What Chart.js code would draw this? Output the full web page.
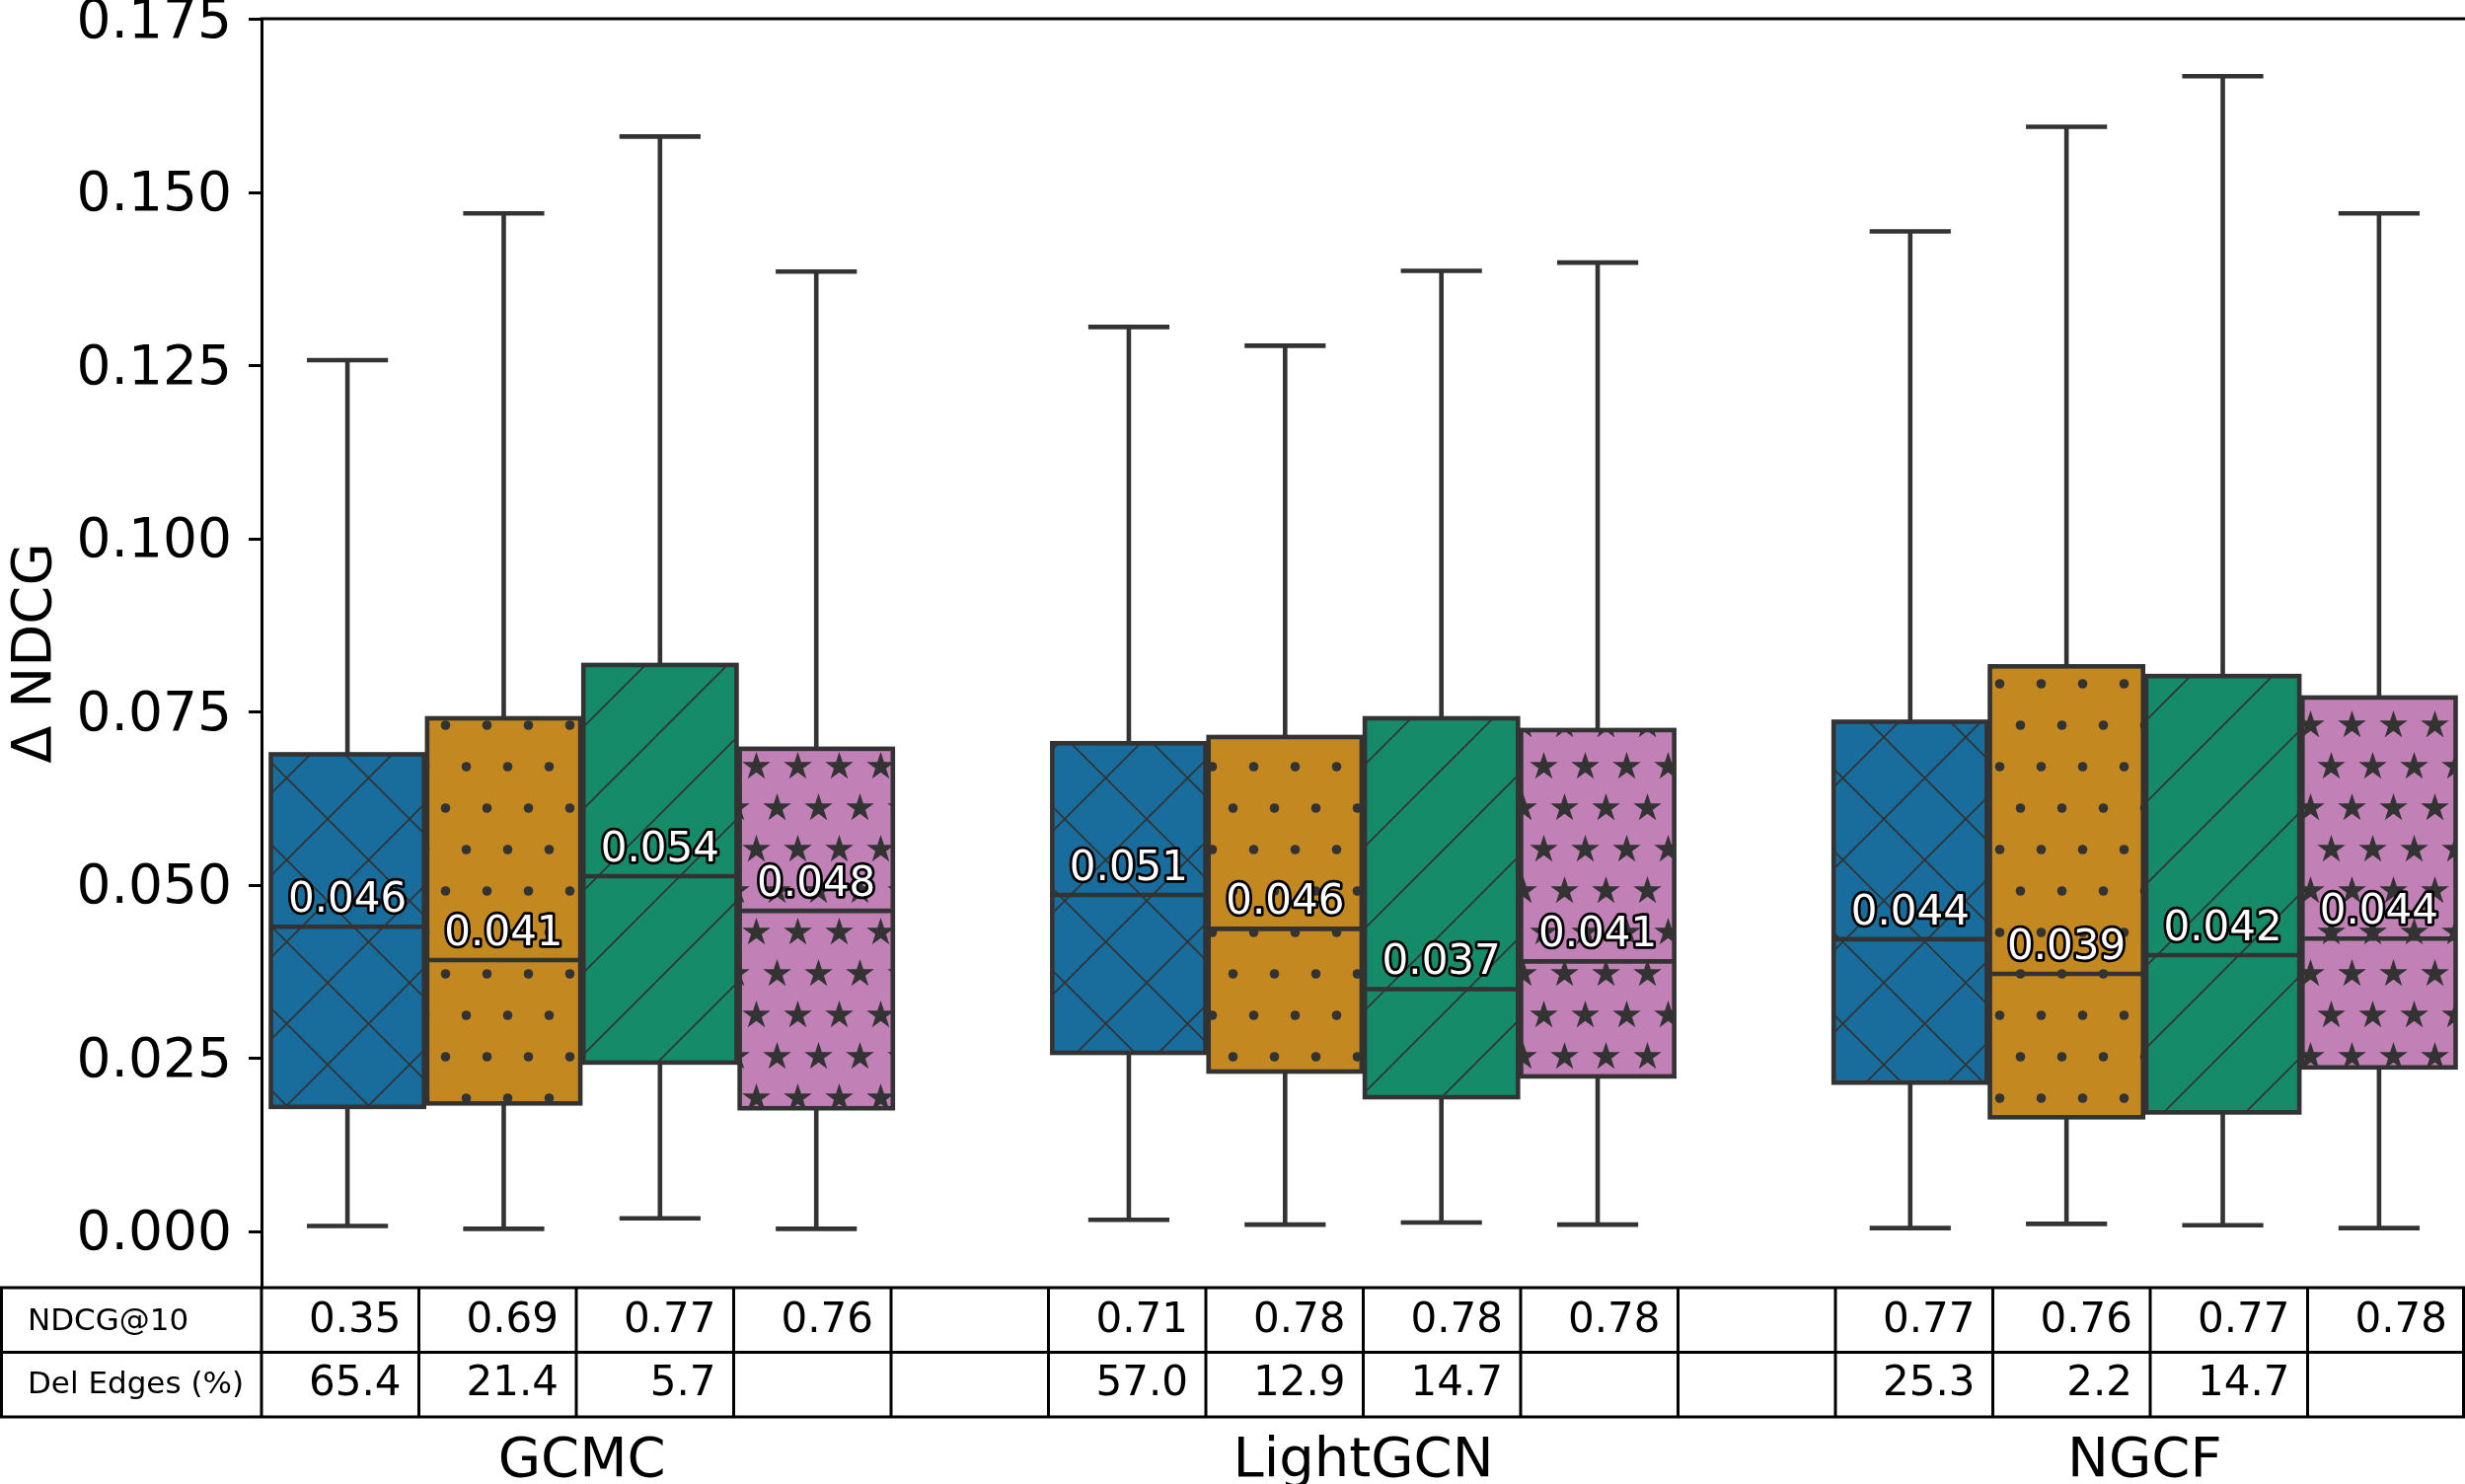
<!DOCTYPE html>
<html><head><meta charset="utf-8">
<script src="https://cdn.jsdelivr.net/npm/chart.js@4.4.1/dist/chart.umd.min.js"></script>
<style>html,body{margin:0;padding:0;background:#fff;overflow:hidden}canvas{display:block}</style>
</head><body>
<canvas id="c" width="2498" height="1504" style="width:2498px;height:1504px"></canvas>
<script>
// ---------- data ----------
const groups = ['GCMC', 'LightGCN', 'NGCF'];
const hueNames = ['Method 1', 'Method 2', 'Method 3', 'Method 4'];
// each inner array: values for GCMC, LightGCN, NGCF
const whiskerLow  = [[0.0008, 0.0017, 0.0005], [0.0004, 0.0010, 0.0011], [0.0019, 0.0013, 0.0009], [0.0004, 0.0010, 0.0005]];
const quartile1   = [[0.0180, 0.0258, 0.0215], [0.0185, 0.0231, 0.0165], [0.0244, 0.0194, 0.0172], [0.0178, 0.0224, 0.0237]];
const medians     = [[0.0440, 0.0486, 0.0422], [0.0392, 0.0437, 0.0372], [0.0513, 0.0350, 0.0399], [0.0463, 0.0390, 0.0423]];
const quartile3   = [[0.0689, 0.0705, 0.0736], [0.0741, 0.0714, 0.0816], [0.0818, 0.0741, 0.0802], [0.0697, 0.0724, 0.0771]];
const whiskerHigh = [[0.1258, 0.1306, 0.1444], [0.1470, 0.1279, 0.1595], [0.1581, 0.1387, 0.1668], [0.1386, 0.1399, 0.1470]];
const boxLabels   = [['0.046', '0.051', '0.044'], ['0.041', '0.046', '0.039'], ['0.054', '0.037', '0.042'], ['0.048', '0.041', '0.044']];
const yTicks = [0, 0.025, 0.05, 0.075, 0.1, 0.125, 0.15, 0.175];
const tableRowLabels = ['NDCG@10', 'Del Edges (%)'];
const ndcgRow     = ['0.35', '0.69', '0.77', '0.76', '', '0.71', '0.78', '0.78', '0.78', '', '0.77', '0.76', '0.77', '0.78'];
const delEdgesRow = ['65.4', '21.4', '5.7', '', '', '57.0', '12.9', '14.7', '', '', '25.3', '2.2', '14.7', ''];
const yTitle = 'Δ NDCG';

// ---------- styles ----------
const FONT = "'DejaVu Sans', sans-serif";
const EDGE = '#333333';
const LW = 4.6;
const hueColors = ['#186d9c', '#c38820', '#168b6a', '#c281b6'];

const canvas = document.getElementById('c');
const mainCtx = canvas.getContext('2d');

function makePattern(w, h, bg, draw) {
  const t = document.createElement('canvas');
  t.width = w; t.height = h;
  const g = t.getContext('2d');
  g.fillStyle = bg; g.fillRect(0, 0, w, h);
  g.strokeStyle = EDGE; g.fillStyle = EDGE; g.lineWidth = 1.7;
  draw(g, w, h);
  return mainCtx.createPattern(t, 'repeat');
}
function seg(g, x1, y1, x2, y2) { g.beginPath(); g.moveTo(x1, y1); g.lineTo(x2, y2); g.stroke(); }
function star(g, cx, cy, R) {
  const r = R * 0.382;
  g.beginPath();
  for (let k = 0; k < 10; k++) {
    const a = -Math.PI / 2 + k * Math.PI / 5;
    const rr = k % 2 === 0 ? R : r;
    const px = cx + rr * Math.cos(a), py = cy + rr * Math.sin(a);
    if (k === 0) g.moveTo(px, py); else g.lineTo(px, py);
  }
  g.closePath(); g.fill();
}
const patterns = [
  makePattern(83, 83, hueColors[0], (g, w, h) => {
    for (const k of [-w, 0, w]) { seg(g, k, h, k + w, 0); seg(g, k, 0, k + w, h); }
  }),
  makePattern(42, 84, hueColors[1], (g, w, h) => {
    for (const [x, y] of [[10.5, 21], [31.5, 63]]) { g.beginPath(); g.arc(x, y, 4.8, 0, Math.PI * 2); g.fill(); }
  }),
  makePattern(83, 83, hueColors[2], (g, w, h) => {
    for (const k of [-w, 0, w]) seg(g, k, h, k + w, 0);
  }),
  makePattern(42, 84, hueColors[3], (g, w, h) => {
    for (const [x, y] of [[10.5, 21], [31.5, 63]])
      for (const dx of [-w, 0, w]) for (const dy of [-h, 0, h]) star(g, x + dx, y + dy, 15);
  })
];

const bgPlugin = {
  id: 'bg',
  beforeDraw(chart) {
    const c = chart.ctx; c.save(); c.fillStyle = '#fff'; c.fillRect(0, 0, chart.width, chart.height); c.restore();
  }
};

const boxPlugin = {
  id: 'boxes',
  afterDatasetsDraw(chart) {
    const c = chart.ctx, ys = chart.scales.y;
    c.save();
    c.strokeStyle = EDGE; c.lineWidth = LW; c.lineJoin = 'miter';
    const labelJobs = [];
    hueNames.forEach((_, h) => {
      const meta = chart.getDatasetMeta(h);
      meta.data.forEach((el, i) => {
        const x = el.x, w = el.width;
        const l = x - w / 2;
        const pLo = ys.getPixelForValue(whiskerLow[h][i]);
        const p1 = ys.getPixelForValue(quartile1[h][i]);
        const pm = ys.getPixelForValue(medians[h][i]);
        const p3 = ys.getPixelForValue(quartile3[h][i]);
        const pHi = ys.getPixelForValue(whiskerHigh[h][i]);
        c.lineCap = 'butt';
        seg(c, x, p3, x, pHi);
        seg(c, x, p1, x, pLo);
        c.lineCap = 'square';
        seg(c, x - w / 4, pHi, x + w / 4, pHi);
        seg(c, x - w / 4, pLo, x + w / 4, pLo);
        c.lineCap = 'butt';
        c.strokeRect(l, p3, w, p1 - p3);
        seg(c, l, pm, l + w, pm);
        labelJobs.push([boxLabels[h][i], x, pm - 15]);
      });
    });
    c.font = '42px ' + FONT;
    c.textAlign = 'center'; c.textBaseline = 'alphabetic';
    c.lineJoin = 'round';
    labelJobs.forEach(([t, x, y]) => {
      c.strokeStyle = '#000'; c.lineWidth = 5.5; c.strokeText(t, x, y);
      c.fillStyle = '#fff'; c.fillText(t, x, y);
    });
    c.restore();
  }
};

const tablePlugin = {
  id: 'table',
  afterDraw(chart) {
    const c = chart.ctx, a = chart.chartArea, xs = chart.scales.x;
    c.save();
    // top spine
    c.strokeStyle = '#000'; c.lineWidth = 3; c.lineCap = 'butt';
    seg(c, a.left - 1.5, a.top, a.right, a.top);
    const rowH = 65.5;
    const top = a.bottom;
    const nCols = ndcgRow.length;
    const colW = (a.right - a.left) / nCols;
    for (let r = 0; r <= 2; r++) seg(c, 0, top + r * rowH, a.right, top + r * rowH);
    seg(c, 1.5, top, 1.5, top + 2 * rowH);
    for (let k = 0; k <= nCols; k++) {
      const xx = Math.min(a.left + k * colW, a.right - 1.5);
      seg(c, xx, top, xx, top + 2 * rowH);
    }
    c.fillStyle = '#000';
    c.textBaseline = 'alphabetic';
    c.textAlign = 'left';
    c.font = '31px ' + FONT;
    tableRowLabels.forEach((t, r) => c.fillText(t, 28, top + r * rowH + 43 - r * 1.5));
    c.textAlign = 'right';
    c.font = '42px ' + FONT;
    [ndcgRow, delEdgesRow].forEach((row, r) => {
      row.forEach((t, k) => {
        if (t) c.fillText(t, a.left + (k + 1) * colW - 18, top + r * rowH + 45 - r * 2);
      });
    });
    c.textAlign = 'center';
    c.font = '56px ' + FONT;
    groups.forEach((g, i) => c.fillText(g, xs.getPixelForValue(i), 1496));
    c.restore();
  }
};

Chart.defaults.font.family = FONT;

new Chart(mainCtx, {
  type: 'bar',
  data: {
    datasets: hueNames.map((name, h) => ({
      label: name,
      data: groups.map((g, i) => ({ x: i, y: [quartile1[h][i], quartile3[h][i]] })),
      backgroundColor: patterns[h],
      borderWidth: 0,
      barPercentage: 0.98,
      categoryPercentage: 0.8
    }))
  },
  options: {
    responsive: false,
    devicePixelRatio: 1,
    animation: false,
    layout: { padding: { top: 19, right: 0, bottom: 199, left: 0 } },
    plugins: { legend: { display: false }, tooltip: { enabled: false } },
    scales: {
      x: {
        type: 'linear', min: -0.41, max: 2.41, offset: false, display: false,
        afterBuildTicks: s => { s.ticks = groups.map((g, i) => ({ value: i })); }
      },
      y: {
        type: 'linear', min: -0.0081, max: 0.1751,
        afterBuildTicks: s => { s.ticks = yTicks.map(v => ({ value: v })); },
        afterFit: s => { s.width = 265; s.paddingTop = 0; s.paddingBottom = 0; },
        ticks: { callback: v => Number(v).toFixed(3), color: '#000', font: { size: 55 }, padding: 17, autoSkip: false, labelOffset: 4 },
        grid: { drawOnChartArea: false, drawTicks: true, tickLength: 13, tickWidth: 3, tickColor: '#000' },
        border: { display: true, color: '#000', width: 3 },
        title: { display: true, text: yTitle, color: '#000', font: { size: 56 }, padding: { top: 3, bottom: 0 } }
      }
    }
  },
  plugins: [bgPlugin, boxPlugin, tablePlugin]
});
</script>
</body></html>
